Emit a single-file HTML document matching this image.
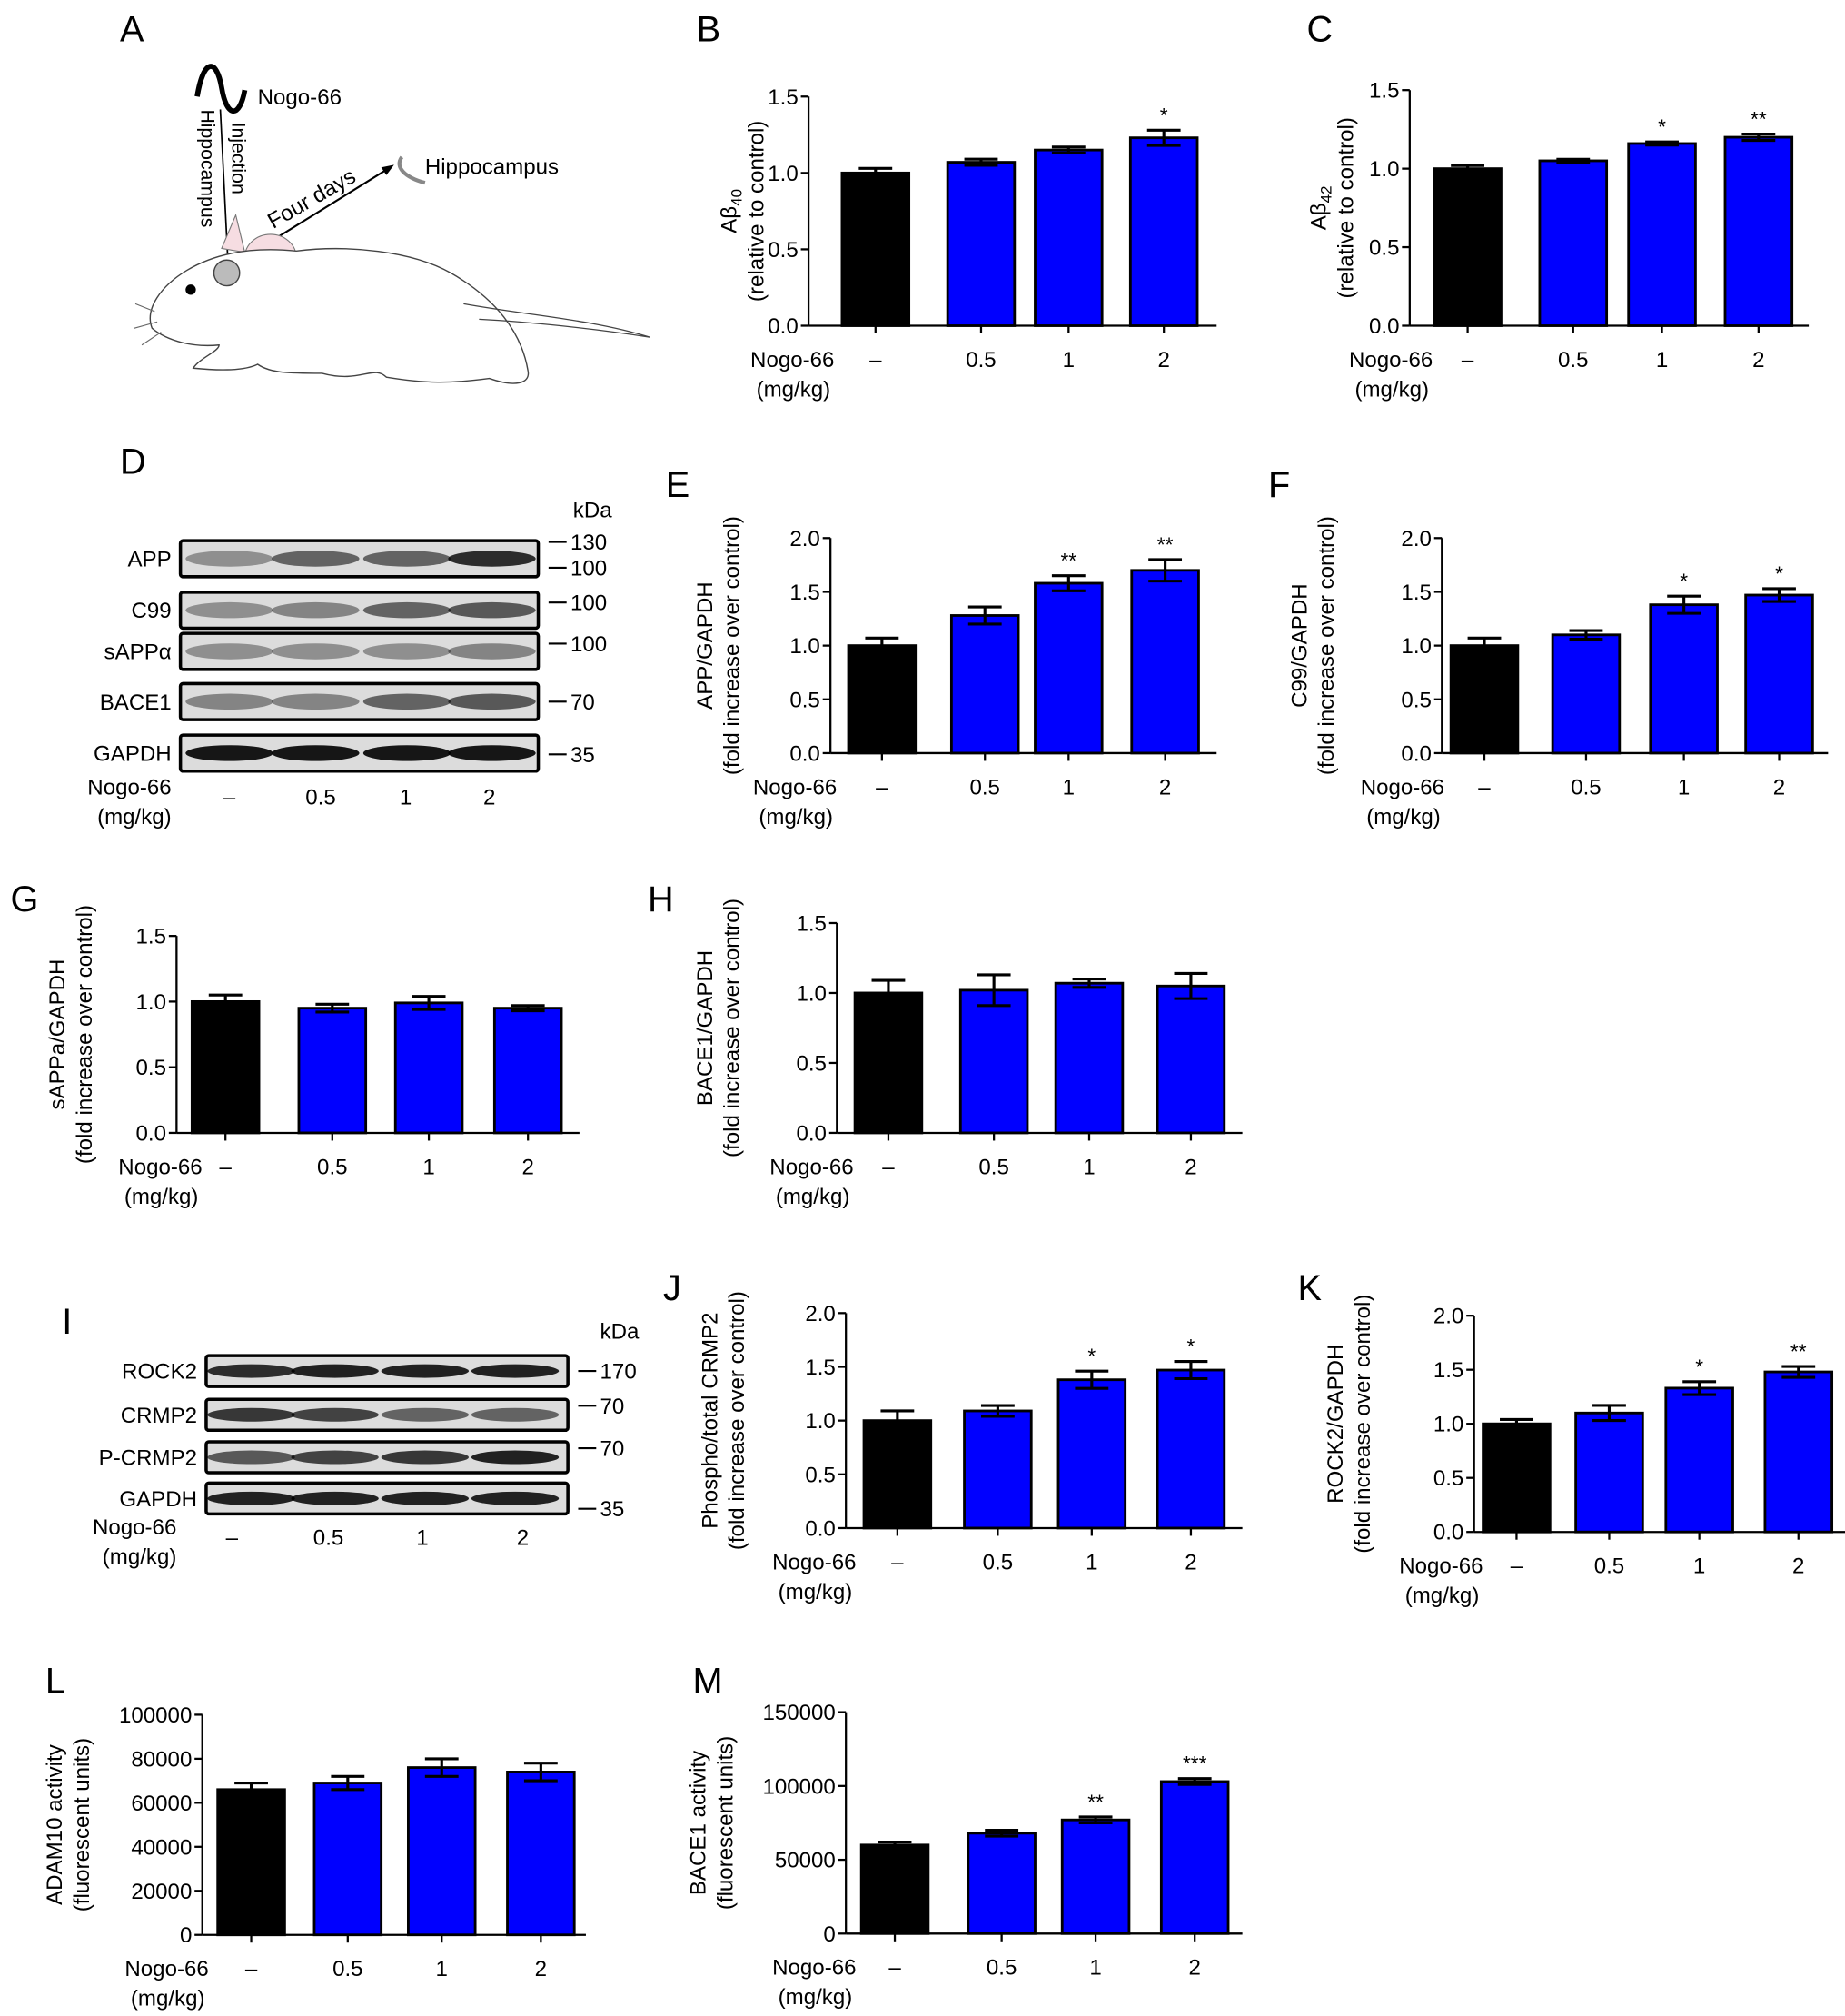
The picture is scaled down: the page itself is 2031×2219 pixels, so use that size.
<!DOCTYPE html>
<html><head><meta charset="utf-8"><style>
html,body{margin:0;padding:0;background:#fff}
svg{display:block;font-family:"Liberation Sans",Arial,sans-serif}
</style></head><body>
<svg id="fig" width="2031" height="2219" viewBox="0 0 1433 1566" xmlns="http://www.w3.org/2000/svg">
<rect width="1433" height="1566" fill="#fff"/>
<g id="panelA">
 <text x="93" y="32" font-size="28">A</text>
 <path d="M153,75 C158,45 168,45 172,68 C176,92 186,92 190,70" fill="none" stroke="#000" stroke-width="4"/>
 <text x="200" y="81" font-size="17">Nogo-66</text>
 <line x1="171" y1="85" x2="177" y2="205" stroke="#000" stroke-width="1.2"/>
 <text transform="translate(156,85) rotate(90)" font-size="15">Hippocampus</text>
 <text transform="translate(180,95) rotate(90)" font-size="15">Injection</text>
 <line x1="182" y1="205" x2="303" y2="130" stroke="#000" stroke-width="1.5"/>
 <polygon points="306,128 296,130 300,136" fill="#000"/>
 <text transform="translate(212,178) rotate(-30)" font-size="17">Four days</text>
 <path d="M312,122 C306,130 315,138 330,142" fill="none" stroke="#888" stroke-width="3"/>
 <text x="330" y="135" font-size="17">Hippocampus</text>
 <path d="M172,193 L183,167 L190,196 Z" fill="#f6dde2" stroke="#777" stroke-width="0.8"/>
 <ellipse cx="210" cy="200" rx="20" ry="18" fill="#f6dde2" stroke="#777" stroke-width="0.8"/>
 <path d="M118,255 C112,240 125,222 145,210 C170,195 200,192 230,195 C270,190 320,195 350,212 C385,232 405,258 410,288 C412,298 400,301 380,294 C350,298 330,298 300,293 C290,283 280,298 250,290 C225,290 210,290 200,283 C190,288 170,288 150,286 C155,278 170,273 170,268 C150,270 130,265 118,255 Z" fill="#fff" stroke="#444" stroke-width="1"/>
 <path d="M360,236 C410,245 460,248 505,262 C460,255 410,250 372,248" fill="none" stroke="#444" stroke-width="0.9"/>
 <circle cx="148" cy="225" r="4" fill="#000"/>
 <circle cx="176" cy="212" r="10" fill="#bbb" stroke="#444" stroke-width="1"/>
 <path d="M120,242 L105,236 M122,250 L104,255 M125,258 L110,268" stroke="#666" stroke-width="0.8"/>
</g>
<g id="blots"></g>
<g id="charts"></g>
</svg>
<script>
var NS="http://www.w3.org/2000/svg";
var svg=document.getElementById('fig');
var chartsG=document.getElementById('charts');
var blotsG=document.getElementById('blots');
function mk(tag,attrs,parent,txt){var e=document.createElementNS(NS,tag);for(var k in attrs)e.setAttribute(k,attrs[k]);if(txt!==undefined)e.textContent=txt;(parent||svg).appendChild(e);return e;}

// ---- data ----
var categories=["–","0.5","1","2"];
var bValues=[1.0,1.07,1.15,1.23]; var bErrors=[0.03,0.02,0.02,0.05]; var bStars=["","","","*"];
var cValues=[1.0,1.05,1.16,1.20]; var cErrors=[0.02,0.01,0.01,0.02]; var cStars=["","","*","**"];
var eValues=[1.0,1.28,1.58,1.70]; var eErrors=[0.07,0.08,0.07,0.10]; var eStars=["","","**","**"];
var fValues=[1.0,1.10,1.38,1.47]; var fErrors=[0.07,0.04,0.08,0.06]; var fStars=["","","*","*"];
var gValues=[1.0,0.95,0.99,0.95]; var gErrors=[0.05,0.03,0.05,0.02]; var gStars=["","","",""];
var hValues=[1.0,1.02,1.07,1.05]; var hErrors=[0.09,0.11,0.03,0.09]; var hStars=["","","",""];
var jValues=[1.0,1.09,1.38,1.47]; var jErrors=[0.09,0.05,0.08,0.08]; var jStars=["","","*","*"];
var kValues=[1.0,1.10,1.33,1.48]; var kErrors=[0.04,0.07,0.06,0.05]; var kStars=["","","*","**"];
var lValues=[66000,69000,76000,74000]; var lErrors=[3000,3000,4000,4000]; var lStars=["","","",""];
var mValues=[60000,68000,77000,103000]; var mErrors=[2000,2000,2000,2000]; var mStars=["","","**","***"];
var ticks15=["0.0","0.5","1.0","1.5"];
var ticks20=["0.0","0.5","1.0","1.5","2.0"];
var ticksL=["0","20000","40000","60000","80000","100000"];
var ticksM=["0","50000","100000","150000"];

function drawChart(id,L,values,errors,stars,tickLabels,ylab1,ylab2,sub){
  var g=mk('g',{},chartsG);
  
  
  var maxV=parseFloat(tickLabels[tickLabels.length-1]);
  function y(v){return L.y0-(v/maxV)*(L.y0-L.yT);}
  function x(i){return L.cx[i];}
  var lt=mk('text',{x:L.lx,y:L.ly,'font-size':28},g,id.toUpperCase());
  
  
  var ax=mk('line',{x1:L.x0,y1:L.yT,x2:L.x0,y2:L.y0,stroke:'#000','stroke-width':1.6},g);
  
  
  var xa=mk('line',{x1:L.x0,y1:L.y0,x2:L.x1,y2:L.y0,stroke:'#000','stroke-width':1.6},g);
  
  
  for(var t=0;t<tickLabels.length;t++){
    var v=parseFloat(tickLabels[t]);var yy=y(v);
    mk('line',{x1:L.x0-6,y1:yy,x2:L.x0,y2:yy,stroke:'#000','stroke-width':1.6},g);
    var tl=mk('text',{x:L.x0-8,y:yy+6,'font-size':17,'text-anchor':'end'},g,tickLabels[t]);
    
    
  }
  var bw=L.bw||52;
  for(var i=0;i<values.length;i++){
    var cx=x(i),top=y(values[i]);
    var r=mk('rect',{x:cx-bw/2,y:top,width:bw,height:L.y0-top,fill:i==0?'#000':'#0000ff',stroke:'#000','stroke-width':2},g);
    
    
    var eh=y(values[i]+errors[i]),el=y(values[i]-errors[i]);
    var eb=mk('path',{d:'M'+cx+','+el+'V'+eh+'M'+(cx-13)+','+eh+'H'+(cx+13)+(i>0?'M'+(cx-13)+','+el+'H'+(cx+13):''),stroke:'#000','stroke-width':2.2,fill:'none'},g);
    
    
    mk('line',{x1:cx,y1:L.y0,x2:cx,y2:L.y0+6,stroke:'#000','stroke-width':1.6},g);
    if(stars[i]){var st=mk('text',{x:cx,y:eh-6,'font-size':16,'text-anchor':'middle'},g,stars[i]);
      
      }
    var xl=mk('text',{x:cx,y:L.y0+32,'font-size':17,'text-anchor':'middle'},g,categories[i]);
    
    
  }
  var n1=mk('text',{x:L.nx,y:L.y0+32,'font-size':17,'text-anchor':'end'},g,'Nogo-66');
  
  
  var n2=mk('text',{x:L.nx-3,y:L.y0+55,'font-size':17,'text-anchor':'end'},g,'(mg/kg)');
  
  
  var ym=(L.yT+L.y0)/2;
  var y1=mk('text',{transform:'translate('+(L.yl)+','+ym+') rotate(-90)','font-size':17,'text-anchor':'middle'},g,ylab1);
  
  
  if(sub){var ts=mk('tspan',{'font-size':12,dy:4},y1,sub);}
  var y2=mk('text',{transform:'translate('+(L.yl+21)+','+ym+') rotate(-90)','font-size':17,'text-anchor':'middle'},g,ylab2);
  
  
  return g;
}
var FI='(fold increase over control)';
drawChart('b',{x0:628,x1:945,yT:75,y0:253,cx:[680,762,830,904],lx:541,ly:32,nx:648,yl:572},bValues,bErrors,bStars,ticks15,'Aβ','(relative to control)','40');
drawChart('c',{x0:1095,x1:1405,yT:70,y0:253,cx:[1140,1222,1291,1366],lx:1015,ly:32,nx:1113,yl:1030},cValues,cErrors,cStars,ticks15,'Aβ','(relative to control)','42');
drawChart('e',{x0:645,x1:945,yT:418,y0:585,cx:[685,765,830,905],lx:517,ly:386,nx:650,yl:553},eValues,eErrors,eStars,ticks20,'APP/GAPDH',FI);
drawChart('f',{x0:1120,x1:1420,yT:418,y0:585,cx:[1153,1232,1308,1382],lx:985,ly:386,nx:1122,yl:1015},fValues,fErrors,fStars,ticks20,'C99/GAPDH',FI);
drawChart('g',{x0:137,x1:450,yT:727,y0:880,cx:[175,258,333,410],lx:8,ly:708,nx:157,yl:50},gValues,gErrors,gStars,ticks15,'sAPPa/GAPDH',FI);
drawChart('h',{x0:650,x1:965,yT:717,y0:880,cx:[690,772,846,925],lx:503,ly:708,nx:663,yl:553},hValues,hErrors,hStars,ticks15,'BACE1/GAPDH',FI);
drawChart('j',{x0:657,x1:965,yT:1020,y0:1187,cx:[697,775,848,925],lx:515,ly:1010,nx:665,yl:557},jValues,jErrors,jStars,ticks20,'Phospho/total CRMP2',FI);
drawChart('k',{x0:1145,x1:1435,yT:1022,y0:1190,cx:[1178,1250,1320,1397],lx:1008,ly:1010,nx:1152,yl:1043},kValues,kErrors,kStars,ticks20,'ROCK2/GAPDH',FI);
drawChart('l',{x0:157,x1:455,yT:1332,y0:1503,cx:[195,270,343,420],lx:35,ly:1315,nx:162,yl:48},lValues,lErrors,lStars,ticksL,'ADAM10 activity','(fluorescent units)');
drawChart('m',{x0:657,x1:965,yT:1330,y0:1502,cx:[695,778,851,928],lx:538,ly:1315,nx:665,yl:548},mValues,mErrors,mStars,ticksM,'BACE1 activity','(fluorescent units)');

// ---- western blots ----
var blotDRows=["APP","C99","sAPPα","BACE1","GAPDH"];
var blotDIntensity=[[0.35,0.55,0.55,0.8],[0.35,0.4,0.55,0.6],[0.35,0.35,0.35,0.4],[0.4,0.4,0.55,0.6],[0.9,0.9,0.9,0.9]];
var blotIRows=["ROCK2","CRMP2","P-CRMP2","GAPDH"];
var blotIIntensity=[[0.8,0.85,0.85,0.85],[0.75,0.7,0.55,0.55],[0.6,0.7,0.75,0.85],[0.85,0.85,0.85,0.85]];
function drawBlot(id,x0,x1,tops,h,rows,inten,lanes,labelX,markers,catY,nogoX,catX){
  var g=mk('g',{},blotsG);
  
  
  for(var r=0;r<rows.length;r++){
    var bx=mk('rect',{x:x0,y:tops[r],width:x1-x0,height:h,fill:'#dcdcdc',stroke:'#000','stroke-width':2.5,rx:2},g);
    
    
    for(var l=0;l<lanes.length;l++){
      var a=inten[r][l];
      mk('ellipse',{cx:lanes[l],cy:tops[r]+h/2,rx:34,ry:h*0.22,fill:'rgba(0,0,0,'+a+')'},g);
    }
    var lb=mk('text',{x:labelX,y:tops[r]+h/2+6,'font-size':17,'text-anchor':'end'},g,rows[r]);
    
    
  }
  for(var m=0;m<markers.length;m++){
    mk('line',{x1:x1+8,y1:markers[m][0],x2:x1+22,y2:markers[m][0],stroke:'#000','stroke-width':1.5},g);
    var mt=mk('text',{x:x1+25,y:markers[m][0]+6,'font-size':17},g,markers[m][1]);
    
    
  }
  for(var c=0;c<categories.length;c++){
    var ct=mk('text',{x:catX[c],y:catY,'font-size':17,'text-anchor':'middle'},g,categories[c]);
    
    
  }
  var n1=mk('text',{x:nogoX,y:catY-8,'font-size':17,'text-anchor':'end'},g,'Nogo-66');
  
  
  var n2=mk('text',{x:nogoX,y:catY+15,'font-size':17,'text-anchor':'end'},g,'(mg/kg)');
  
  
}
drawBlot('d',140,418,[420,460,492,531,571],28,blotDRows,blotDIntensity,[178,245,316,382],133,[[421,'130'],[441,'100'],[468,'100'],[500,'100'],[545,'70'],[586,'35']],625,133,[178,249,315,380]);
drawBlot('i',160,441,[1053,1087,1120,1152],24,blotIRows,blotIIntensity,[195,260,330,400],153,[[1065,'170'],[1092,'70'],[1125,'70'],[1172,'35']],1200,137,[180,255,328,406]);
var dl=mk('text',{x:93,y:368,'font-size':28},blotsG,'D');


var kd=mk('text',{x:445,y:402,'font-size':17},blotsG,'kDa');


var il=mk('text',{x:48,y:1036,'font-size':28},blotsG,'I');


var kd2=mk('text',{x:466,y:1040,'font-size':17},blotsG,'kDa');


</script>
</body></html>
